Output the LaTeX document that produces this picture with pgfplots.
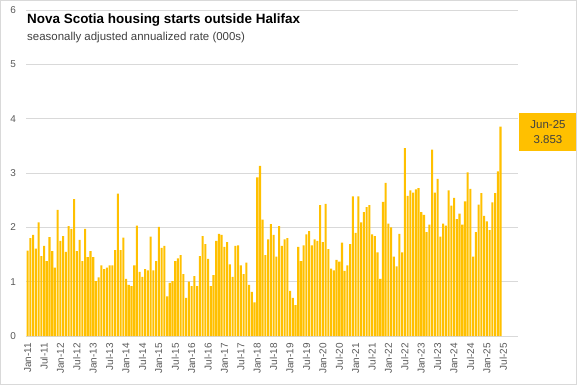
\documentclass[border=0pt]{standalone}
\usepackage{pgfplots}
\pgfplotsset{compat=1.18}
\usepackage{fontspec}
\setmainfont{Liberation Sans}
\definecolor{bargold}{RGB}{255,192,0}
\definecolor{gridgray}{RGB}{217,217,217}
\definecolor{txtgray}{RGB}{89,89,89}
\definecolor{subgray}{RGB}{64,64,64}
\begin{document}
\begin{tikzpicture}
\useasboundingbox (0,0) rectangle (577bp,385bp);
\begin{axis}[
  at={(26bp,49bp)}, anchor=south west,
  scale only axis, width=492bp, height=326bp,
  xmin=-0.6, xmax=179.4, ymin=0, ymax=6,
  ybar, bar width=2.05bp, bar shift=0pt,
  axis line style={draw=none},
  ymajorgrids, grid style={gridgray, line width=0.75bp},
  ytick={0,1,2,3,4,5,6},
  xtick={0,6,...,174},
  xticklabels={Jan-11,Jul-11,Jan-12,Jul-12,Jan-13,Jul-13,Jan-14,Jul-14,Jan-15,Jul-15,Jan-16,Jul-16,Jan-17,Jul-17,Jan-18,Jul-18,Jan-19,Jul-19,Jan-20,Jul-20,Jan-21,Jul-21,Jan-22,Jul-22,Jan-23,Jul-23,Jan-24,Jul-24,Jan-25,Jul-25},
  major tick length=0pt, tick style={draw=none},
  xticklabel style={rotate=90, anchor=east, inner ysep=0pt, inner xsep=7bp, font=\fontsize{10}{12}\selectfont, text=txtgray},
  yticklabel style={anchor=east, inner sep=0pt, xshift=-10bp, font=\fontsize{10}{12}\selectfont, text=txtgray},
  /pgf/number format/assume math mode=true,
  clip=false,
]
\addplot[fill=bargold, draw=none] coordinates {
(0,1.57) (1,1.80) (2,1.86) (3,1.61) (4,2.09) (5,1.47) (6,1.66) (7,1.38) (8,1.82) (9,1.56)
(10,1.26) (11,2.32) (12,1.75) (13,1.84) (14,1.55) (15,2.02) (16,1.97) (17,2.52) (18,1.56) (19,1.77)
(20,1.38) (21,1.97) (22,1.45) (23,1.56) (24,1.45) (25,1.01) (26,1.08) (27,1.30) (28,1.23) (29,1.26)
(30,1.30) (31,1.30) (32,1.58) (33,2.62) (34,1.58) (35,1.81) (36,1.05) (37,0.94) (38,0.92) (39,1.30)
(40,2.03) (41,1.18) (42,1.09) (43,1.23) (44,1.21) (45,1.83) (46,1.21) (47,1.38) (48,2.01) (49,1.62)
(50,1.66) (51,0.73) (52,0.98) (53,1.01) (54,1.38) (55,1.43) (56,1.49) (57,1.14) (58,0.70) (59,1.00)
(60,0.92) (61,1.10) (62,0.92) (63,1.47) (64,1.84) (65,1.69) (66,1.42) (67,0.92) (68,1.12) (69,1.75)
(70,1.88) (71,1.86) (72,1.64) (73,1.73) (74,1.32) (75,1.09) (76,1.66) (77,1.67) (78,1.30) (79,1.14)
(80,1.35) (81,0.94) (82,0.81) (83,0.62) (84,2.92) (85,3.13) (86,2.14) (87,1.49) (88,1.78) (89,2.06)
(90,1.86) (91,1.46) (92,2.02) (93,1.66) (94,1.78) (95,1.80) (96,0.83) (97,0.70) (98,0.57) (99,1.64)
(100,1.38) (101,1.67) (102,1.87) (103,1.93) (104,1.67) (105,1.78) (106,1.75) (107,2.41) (108,1.73) (109,2.43)
(110,1.60) (111,1.24) (112,1.21) (113,1.40) (114,1.37) (115,1.72) (116,1.20) (117,1.30) (118,1.69) (119,2.57)
(120,1.90) (121,2.57) (122,2.09) (123,2.28) (124,2.37) (125,2.41) (126,1.87) (127,1.84) (128,1.54) (129,1.05)
(130,2.47) (131,2.82) (132,2.07) (133,2.00) (134,1.46) (135,1.28) (136,1.88) (137,1.54) (138,3.46) (139,2.58)
(140,2.68) (141,2.64) (142,2.70) (143,2.72) (144,2.28) (145,2.23) (146,1.91) (147,2.05) (148,3.43) (149,2.64)
(150,2.89) (151,1.83) (152,2.07) (153,2.03) (154,2.68) (155,2.40) (156,2.54) (157,2.15) (158,2.25) (159,2.05)
(160,2.48) (161,3.01) (162,2.71) (163,1.46) (164,1.91) (165,2.42) (166,2.63) (167,2.21) (168,2.11) (169,1.95)
(170,2.46) (171,2.63) (172,3.03) (173,3.853)
};
\end{axis}
\node[anchor=base west, inner sep=0pt, font=\bfseries\fontsize{13.5}{16}\selectfont] at (27bp,361bp) {Nova Scotia housing starts outside Halifax};
\node[anchor=base west, inner sep=0pt, font=\fontsize{11.5}{14}\selectfont, text=subgray] at (27bp,344.5bp) {seasonally adjusted annualized rate (000s)};
\node[fill=bargold, inner sep=0pt, minimum width=58bp, minimum height=38bp, align=center, font=\fontsize{11.5}{15}\selectfont, text=subgray] at (548bp,253bp) {Jun-25\\3.853};
\draw[gridgray, line width=0.75bp] (0.4bp,0.4bp) rectangle (576.6bp,384.6bp);
\end{tikzpicture}
\end{document}
